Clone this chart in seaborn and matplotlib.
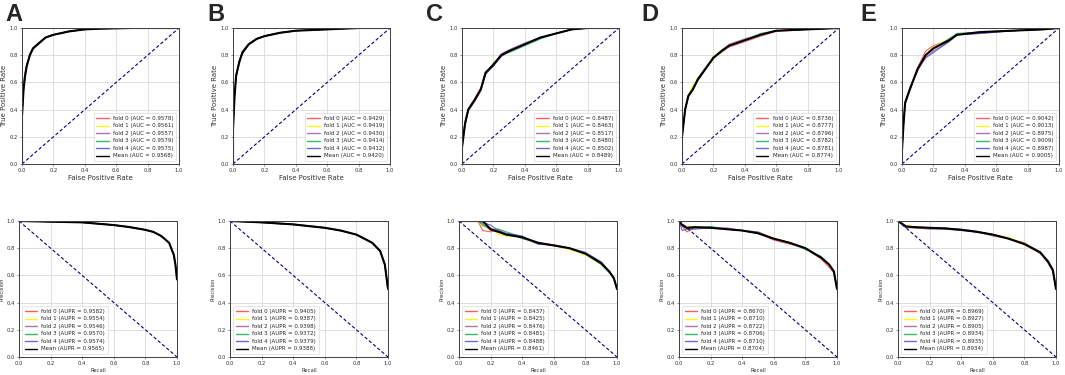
import matplotlib
matplotlib.use("Agg")
import matplotlib.pyplot as plt
import seaborn as sns

# ---------------- data ----------------
panels = ["A", "B", "C", "D", "E"]
fold_names = ["fold 0", "fold 1", "fold 2", "fold 3", "fold 4", "Mean"]

# AUC / AUPR values (folds 0-4, mean)
A_auc = [0.9578, 0.9561, 0.9557, 0.9579, 0.9575, 0.9568]
A_aupr = [0.9582, 0.9554, 0.9546, 0.9570, 0.9574, 0.9565]
B_auc = [0.9429, 0.9419, 0.9430, 0.9414, 0.9412, 0.9420]
B_aupr = [0.9405, 0.9387, 0.9398, 0.9372, 0.9379, 0.9388]
C_auc = [0.8487, 0.8463, 0.8517, 0.8480, 0.8502, 0.8489]
C_aupr = [0.8437, 0.8425, 0.8476, 0.8481, 0.8488, 0.8461]
D_auc = [0.8736, 0.8777, 0.8796, 0.8782, 0.8781, 0.8774]
D_aupr = [0.8670, 0.8710, 0.8722, 0.8706, 0.8710, 0.8704]
E_auc = [0.9042, 0.9013, 0.8975, 0.9009, 0.8987, 0.9005]
E_aupr = [0.8969, 0.8927, 0.8905, 0.8934, 0.8935, 0.8934]

# ---- Panel A ----
A_roc_x = [0, 0, 0.01, 0.02, 0.03, 0.05, 0.07, 0.10, 0.15, 0.20, 0.30, 0.40, 0.50, 0.70, 1.0]
A_roc_f0 = [0, 0.40, 0.60, 0.68, 0.73, 0.80, 0.85, 0.885, 0.930, 0.950, 0.975, 0.990, 0.995, 1.0, 1.0]
A_roc_f1 = [0, 0.33, 0.54, 0.64, 0.71, 0.79, 0.85, 0.880, 0.925, 0.950, 0.975, 0.990, 0.995, 1.0, 1.0]
A_roc_f2 = [0, 0.34, 0.55, 0.64, 0.72, 0.80, 0.84, 0.880, 0.930, 0.948, 0.974, 0.988, 0.995, 1.0, 1.0]
A_roc_f3 = [0, 0.36, 0.56, 0.66, 0.72, 0.81, 0.85, 0.885, 0.930, 0.952, 0.976, 0.990, 0.996, 1.0, 1.0]
A_roc_f4 = [0, 0.35, 0.55, 0.65, 0.73, 0.80, 0.855, 0.880, 0.930, 0.950, 0.975, 0.990, 0.995, 1.0, 1.0]
A_roc_mean = [0, 0.35, 0.55, 0.65, 0.72, 0.80, 0.85, 0.880, 0.930, 0.950, 0.975, 0.990, 0.995, 1.0, 1.0]

A_pr_x = [0, 0.2, 0.4, 0.5, 0.6, 0.7, 0.8, 0.85, 0.9, 0.95, 0.98, 0.99, 1.0]
A_pr_f0 = [1.0, 0.996, 0.990, 0.980, 0.972, 0.958, 0.935, 0.920, 0.890, 0.840, 0.750, 0.680, 0.57]
A_pr_f1 = [1.0, 0.994, 0.988, 0.979, 0.970, 0.954, 0.934, 0.918, 0.888, 0.838, 0.748, 0.678, 0.57]
A_pr_f2 = [1.0, 0.995, 0.989, 0.978, 0.969, 0.953, 0.933, 0.918, 0.889, 0.839, 0.749, 0.679, 0.57]
A_pr_f3 = [1.0, 0.995, 0.990, 0.981, 0.970, 0.955, 0.936, 0.921, 0.891, 0.841, 0.751, 0.681, 0.57]
A_pr_f4 = [1.0, 0.995, 0.990, 0.980, 0.971, 0.956, 0.935, 0.920, 0.890, 0.840, 0.750, 0.680, 0.57]
A_pr_mean = [1.0, 0.995, 0.990, 0.980, 0.970, 0.955, 0.935, 0.920, 0.890, 0.840, 0.750, 0.680, 0.57]

# ---- Panel B ----
B_roc_x = [0, 0, 0.01, 0.02, 0.04, 0.06, 0.10, 0.15, 0.20, 0.30, 0.40, 0.60, 0.80, 1.0]
B_roc_f0 = [0, 0.27, 0.52, 0.66, 0.76, 0.82, 0.88, 0.92, 0.940, 0.965, 0.980, 0.990, 1.0, 1.0]
B_roc_f1 = [0, 0.24, 0.49, 0.64, 0.75, 0.82, 0.88, 0.92, 0.940, 0.964, 0.980, 0.990, 1.0, 1.0]
B_roc_f2 = [0, 0.25, 0.50, 0.65, 0.76, 0.83, 0.885, 0.92, 0.942, 0.966, 0.981, 0.991, 1.0, 1.0]
B_roc_f3 = [0, 0.24, 0.50, 0.64, 0.74, 0.81, 0.875, 0.915, 0.938, 0.964, 0.979, 0.990, 1.0, 1.0]
B_roc_f4 = [0, 0.26, 0.50, 0.65, 0.75, 0.82, 0.88, 0.92, 0.940, 0.965, 0.980, 0.990, 1.0, 1.0]
B_roc_mean = [0, 0.25, 0.50, 0.65, 0.75, 0.82, 0.88, 0.92, 0.940, 0.965, 0.980, 0.990, 1.0, 1.0]

B_pr_x = [0, 0.2, 0.4, 0.6, 0.7, 0.8, 0.9, 0.95, 0.98, 1.0]
B_pr_f0 = [1.0, 0.992, 0.977, 0.952, 0.932, 0.902, 0.842, 0.782, 0.680, 0.50]
B_pr_f1 = [1.0, 0.990, 0.975, 0.950, 0.930, 0.900, 0.840, 0.780, 0.678, 0.50]
B_pr_f2 = [1.0, 0.991, 0.976, 0.951, 0.931, 0.901, 0.841, 0.781, 0.682, 0.50]
B_pr_f3 = [1.0, 0.988, 0.973, 0.948, 0.928, 0.898, 0.838, 0.778, 0.676, 0.50]
B_pr_f4 = [1.0, 0.989, 0.974, 0.949, 0.929, 0.899, 0.839, 0.779, 0.679, 0.50]
B_pr_mean = [1.0, 0.990, 0.975, 0.950, 0.930, 0.900, 0.840, 0.780, 0.680, 0.50]

# ---- Panel C ----
C_roc_x = [0, 0, 0.02, 0.04, 0.08, 0.12, 0.15, 0.20, 0.25, 0.30, 0.40, 0.50, 0.60, 0.70, 0.80, 1.0]
C_roc_f0 = [0, 0.14, 0.28, 0.40, 0.48, 0.56, 0.68, 0.72, 0.80, 0.83, 0.88, 0.93, 0.96, 0.99, 1.0, 1.0]
C_roc_f1 = [0, 0.12, 0.31, 0.40, 0.48, 0.55, 0.66, 0.74, 0.80, 0.83, 0.88, 0.93, 0.96, 0.99, 1.0, 1.0]
C_roc_f2 = [0, 0.12, 0.30, 0.39, 0.46, 0.54, 0.67, 0.73, 0.81, 0.84, 0.89, 0.93, 0.96, 0.99, 1.0, 1.0]
C_roc_f3 = [0, 0.13, 0.32, 0.41, 0.47, 0.55, 0.67, 0.74, 0.80, 0.82, 0.87, 0.92, 0.96, 0.99, 1.0, 1.0]
C_roc_f4 = [0, 0.17, 0.30, 0.40, 0.46, 0.54, 0.66, 0.72, 0.79, 0.83, 0.88, 0.93, 0.96, 0.99, 1.0, 1.0]
C_roc_mean = [0, 0.12, 0.30, 0.40, 0.47, 0.55, 0.67, 0.73, 0.80, 0.83, 0.88, 0.93, 0.96, 0.99, 1.0, 1.0]

C_pr_x = [0, 0.12, 0.15, 0.20, 0.25, 0.30, 0.35, 0.40, 0.50, 0.60, 0.70, 0.80, 0.90, 0.95, 0.98, 1.0]
C_pr_f0 = [1.0, 1.0, 0.93, 0.92, 0.94, 0.89, 0.90, 0.88, 0.84, 0.825, 0.80, 0.76, 0.69, 0.63, 0.58, 0.50]
C_pr_f1 = [1.0, 1.0, 0.96, 0.95, 0.90, 0.89, 0.89, 0.88, 0.84, 0.820, 0.79, 0.75, 0.68, 0.63, 0.58, 0.50]
C_pr_f2 = [1.0, 1.0, 0.98, 0.93, 0.92, 0.90, 0.89, 0.88, 0.83, 0.825, 0.80, 0.76, 0.69, 0.63, 0.58, 0.50]
C_pr_f3 = [1.0, 1.0, 0.97, 0.94, 0.94, 0.92, 0.90, 0.87, 0.84, 0.820, 0.80, 0.76, 0.68, 0.62, 0.58, 0.50]
C_pr_f4 = [1.0, 1.0, 0.99, 0.97, 0.93, 0.91, 0.90, 0.89, 0.83, 0.820, 0.80, 0.77, 0.70, 0.63, 0.58, 0.50]
C_pr_mean = [1.0, 1.0, 1.0, 0.94, 0.92, 0.90, 0.89, 0.88, 0.84, 0.820, 0.80, 0.76, 0.69, 0.63, 0.58, 0.50]

# ---- Panel D ----
D_roc_x = [0, 0, 0.02, 0.04, 0.07, 0.10, 0.15, 0.20, 0.25, 0.30, 0.40, 0.50, 0.60, 0.80, 1.0]
D_roc_f0 = [0, 0.20, 0.40, 0.50, 0.55, 0.62, 0.70, 0.78, 0.82, 0.86, 0.90, 0.94, 0.975, 0.99, 1.0]
D_roc_f1 = [0, 0.21, 0.41, 0.51, 0.58, 0.63, 0.71, 0.79, 0.83, 0.87, 0.91, 0.95, 0.98, 0.99, 1.0]
D_roc_f2 = [0, 0.20, 0.40, 0.50, 0.54, 0.63, 0.71, 0.78, 0.83, 0.88, 0.92, 0.95, 0.98, 0.99, 1.0]
D_roc_f3 = [0, 0.19, 0.39, 0.50, 0.56, 0.62, 0.70, 0.79, 0.82, 0.87, 0.91, 0.96, 0.98, 0.99, 1.0]
D_roc_f4 = [0, 0.21, 0.40, 0.49, 0.55, 0.61, 0.70, 0.78, 0.83, 0.87, 0.91, 0.95, 0.98, 0.99, 1.0]
D_roc_mean = [0, 0.20, 0.40, 0.50, 0.55, 0.62, 0.70, 0.78, 0.83, 0.87, 0.91, 0.95, 0.98, 0.99, 1.0]

D_pr_x = [0, 0.02, 0.05, 0.10, 0.20, 0.30, 0.40, 0.50, 0.60, 0.70, 0.80, 0.90, 0.95, 0.98, 1.0]
D_pr_f0 = [1.0, 0.96, 0.92, 0.95, 0.95, 0.94, 0.93, 0.91, 0.86, 0.83, 0.80, 0.72, 0.66, 0.62, 0.50]
D_pr_f1 = [1.0, 0.98, 0.96, 0.96, 0.95, 0.94, 0.93, 0.92, 0.87, 0.84, 0.80, 0.73, 0.68, 0.63, 0.50]
D_pr_f2 = [1.0, 0.97, 0.95, 0.95, 0.95, 0.95, 0.93, 0.91, 0.87, 0.84, 0.80, 0.73, 0.68, 0.63, 0.50]
D_pr_f3 = [1.0, 0.97, 0.94, 0.95, 0.96, 0.94, 0.93, 0.91, 0.87, 0.84, 0.79, 0.74, 0.68, 0.63, 0.50]
D_pr_f4 = [1.0, 0.93, 0.94, 0.94, 0.95, 0.94, 0.93, 0.92, 0.87, 0.84, 0.80, 0.73, 0.68, 0.63, 0.50]
D_pr_mean = [1.0, 0.97, 0.95, 0.955, 0.95, 0.94, 0.93, 0.91, 0.87, 0.84, 0.80, 0.73, 0.68, 0.63, 0.50]

# ---- Panel E ----
E_roc_x = [0, 0, 0.01, 0.02, 0.05, 0.10, 0.15, 0.20, 0.30, 0.35, 0.50, 0.70, 0.90, 1.0]
E_roc_f0 = [0, 0.10, 0.30, 0.45, 0.56, 0.71, 0.83, 0.87, 0.91, 0.95, 0.97, 0.98, 0.99, 1.0]
E_roc_f1 = [0, 0.10, 0.30, 0.45, 0.55, 0.70, 0.80, 0.86, 0.92, 0.95, 0.97, 0.98, 0.99, 1.0]
E_roc_f2 = [0, 0.10, 0.29, 0.44, 0.55, 0.69, 0.78, 0.83, 0.90, 0.95, 0.96, 0.98, 0.99, 1.0]
E_roc_f3 = [0, 0.11, 0.31, 0.46, 0.55, 0.69, 0.80, 0.85, 0.92, 0.96, 0.97, 0.98, 0.99, 1.0]
E_roc_f4 = [0, 0.10, 0.30, 0.45, 0.54, 0.70, 0.78, 0.82, 0.90, 0.95, 0.96, 0.98, 0.99, 1.0]
E_roc_mean = [0, 0.10, 0.30, 0.45, 0.55, 0.70, 0.80, 0.85, 0.91, 0.95, 0.97, 0.98, 0.99, 1.0]

E_pr_x = [0, 0.05, 0.10, 0.20, 0.30, 0.40, 0.50, 0.60, 0.70, 0.80, 0.90, 0.95, 0.98, 1.0]
E_pr_f0 = [1.0, 0.96, 0.95, 0.95, 0.945, 0.935, 0.92, 0.90, 0.87, 0.84, 0.77, 0.69, 0.63, 0.50]
E_pr_f1 = [1.0, 0.97, 0.96, 0.95, 0.945, 0.935, 0.92, 0.90, 0.88, 0.83, 0.77, 0.70, 0.64, 0.50]
E_pr_f2 = [1.0, 0.95, 0.95, 0.94, 0.94, 0.93, 0.92, 0.89, 0.87, 0.83, 0.76, 0.70, 0.64, 0.50]
E_pr_f3 = [1.0, 0.96, 0.955, 0.95, 0.95, 0.935, 0.92, 0.90, 0.87, 0.83, 0.77, 0.71, 0.64, 0.50]
E_pr_f4 = [1.0, 0.96, 0.955, 0.95, 0.945, 0.94, 0.925, 0.90, 0.87, 0.83, 0.77, 0.70, 0.64, 0.50]
E_pr_mean = [1.0, 0.96, 0.955, 0.95, 0.945, 0.935, 0.92, 0.90, 0.87, 0.83, 0.77, 0.70, 0.64, 0.50]

# ---------------- style ----------------
sns.set_style("whitegrid", {
    "axes.edgecolor": "#404040",
    "grid.color": "#d9d9d9",
    "xtick.bottom": True,
    "ytick.left": True,
})
plt.rcParams["font.family"] = ["DejaVu Sans"]

line_colors = ["#ff4040", "#f5f500", "#a45aa0", "#10b050", "#5050d0", "black"]
line_alphas = [0.85, 0.9, 0.85, 0.85, 0.85, 1.0]
line_widths = [0.8, 0.8, 0.8, 0.8, 0.8, 1.5]

W, H = 1065, 375
fig = plt.figure(figsize=(W / 100, H / 100), dpi=100)

top_lefts = [22, 233, 462, 682, 902]
bot_lefts = [19, 230, 459, 679, 898]
letter_x = [5, 207, 426, 641, 860]
ax_w = 157
ax_h = 136

g = globals()


def draw(ax, xs, ys_list, vals, metric, diag, legend_loc, xlabel, ylabel, lab_fs):
    for i in range(6):
        sns.lineplot(x=xs, y=ys_list[i], ax=ax, estimator=None, sort=False,
                     color=line_colors[i], alpha=line_alphas[i], lw=line_widths[i],
                     label=f"{fold_names[i]} ({metric} = {vals[i]:.4f})")
    sns.lineplot(x=diag[0], y=diag[1], ax=ax, estimator=None, sort=False,
                 color="navy", lw=0.8, linestyle=(0, (3, 2)))
    ax.set_xlim(0, 1)
    ax.set_ylim(0, 1)
    ax.set_xticks([0, 0.2, 0.4, 0.6, 0.8, 1.0])
    ax.set_yticks([0, 0.2, 0.4, 0.6, 0.8, 1.0])
    ax.set_xticklabels(["0.0", "0.2", "0.4", "0.6", "0.8", "1.0"])
    ax.set_yticklabels(["0.0", "0.2", "0.4", "0.6", "0.8", "1.0"])
    ax.tick_params(labelsize=3.8, length=1.5, width=0.4, pad=1.5, colors="#333333")
    ax.set_xlabel(xlabel, fontsize=lab_fs, labelpad=1.5, color="#333333")
    ax.set_ylabel(ylabel, fontsize=lab_fs, labelpad=1.5, color="#333333")
    for s in ax.spines.values():
        s.set_linewidth(0.7)
    ax.grid(True, lw=0.6)
    leg = ax.legend(loc=legend_loc, fontsize=4.0, handlelength=2.2, borderpad=0.5,
                    labelspacing=0.45, frameon=True, fancybox=True, framealpha=0.9)
    leg.get_frame().set_linewidth(0.4)
    for h in leg.get_lines():
        h.set_linewidth(1.0)


for k, p in enumerate(panels):
    ax1 = fig.add_axes([top_lefts[k] / W, 1 - 164 / H, ax_w / W, ax_h / H])
    ys = [g[f"{p}_roc_f{j}"] for j in range(5)] + [g[f"{p}_roc_mean"]]
    draw(ax1, g[f"{p}_roc_x"], ys, g[f"{p}_auc"], "AUC", ([0, 1], [0, 1]),
         "lower right", "False Positive Rate", "True Positive Rate", 5.0)

    ax2 = fig.add_axes([bot_lefts[k] / W, 1 - 357 / H, (ax_w + 1) / W, ax_h / H])
    ys = [g[f"{p}_pr_f{j}"] for j in range(5)] + [g[f"{p}_pr_mean"]]
    draw(ax2, g[f"{p}_pr_x"], ys, g[f"{p}_aupr"], "AUPR", ([0, 1], [1, 0]),
         "lower left", "Recall", "Precision", 3.8)

    fig.text(letter_x[k] / W, 1 - 3 / H, p, fontsize=17, fontweight="bold",
             ha="left", va="top", family="Liberation Sans")

fig.savefig("out.png", dpi=100)
